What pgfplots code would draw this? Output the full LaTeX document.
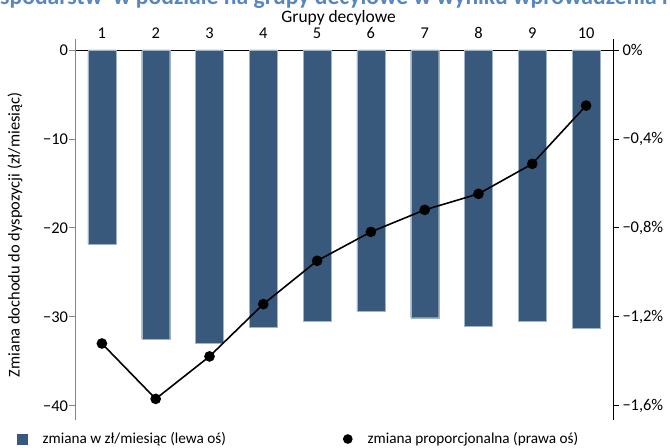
\documentclass[border=0pt]{standalone}
\usepackage{fontspec}
\setmainfont{Carlito}
\usepackage{pgfplots}
\pgfplotsset{compat=1.18}
\definecolor{barblue}{RGB}{57,89,124}
\definecolor{baredge}{RGB}{160,180,200}
\definecolor{titleblue}{RGB}{89,134,189}
\definecolor{axgray}{RGB}{134,134,134}

\begin{document}
\begin{tikzpicture}
\useasboundingbox (-75bp,-28bp) rectangle (595bp,420bp);
\clip (-75bp,-28bp) rectangle (595bp,420bp);
% title, cut off at the top edge as in the source
\node[anchor=base east, inner sep=0pt, text=titleblue, font=\fontsize{23.7}{27}\selectfont\bfseries]
  at (-75bp,415.5bp) {Zmiana dochodu go};
\node[anchor=base west, inner sep=0pt, text=titleblue, font=\fontsize{23.7}{27}\selectfont\bfseries]
  at (-75bp,415.5bp) {spodarstw\ \ w podziale na grupy decylowe w wyniku wprowadzenia reformy};

\pgfplotsset{every axis/.append style={
  scale only axis, width=538bp, height=370bp,
  xmin=0.5, xmax=10.5,
  font=\fontsize{16.5}{19}\selectfont,
  tick align=outside, major tick length=6bp,
}}

% left axis: change in zl/month
\begin{axis}[
  axis x line*=top, axis y line*=left,
  ymin=-41.6, ymax=0,
  xtick={1,...,10},
  xticklabels={1,2,3,4,5,6,7,8,9,10},
  x tick style={draw=none},
  x axis line style={black, line width=0.8pt},
  xticklabel style={anchor=base, yshift=5bp},
  xlabel={Grupy decylowe},
  xlabel style={at={(rel axis cs:0.49,1)}, anchor=base, yshift=27bp,
    font=\fontsize{17.5}{20}\selectfont},
  ytick={-40,-30,-20,-10,0},
  yticklabels={−40,−30,−20,−10,0},
  yticklabel style={xshift=2.5bp},
  y axis line style={axgray, line width=0.8pt, shorten >=-11bp},
  y tick style={axgray, line width=0.8pt},
  ylabel={Zmiana dochodu do dyspozycji (zł/miesiąc)},
  ylabel style={at={(rel axis cs:-0.1115,0.5)}, anchor=center},
  ybar, bar width=28bp,
]
\addplot[fill=barblue, draw=baredge, line width=0.4pt]
  coordinates {(1,-21.8) (2,-32.5) (3,-33.0) (4,-31.2) (5,-30.5)
               (6,-29.4) (7,-30.1) (8,-31.1) (9,-30.5) (10,-31.3)};
\end{axis}

% right axis: proportional change
\begin{axis}[
  axis x line=none, axis y line*=right,
  ymin=-1.664, ymax=0,
  ytick={-1.6,-1.2,-0.8,-0.4,0},
  yticklabels={{−1,6\%},{−1,2\%},{−0,8\%},{−0,4\%},{0\%}},
  y axis line style={black, line width=0.8pt, shorten >=-11bp},
  y tick style={black, line width=0.8pt},
  legend style={at={(rel axis cs:0,0)}, anchor=north west, xshift=-58bp, yshift=-10.5bp,
    draw=none, fill=none, inner sep=0pt, font=\fontsize{15.3}{18}\selectfont,
    /tikz/every odd column/.append style={column sep=13bp},
    /tikz/every even column/.append style={column sep=115bp}},
  legend columns=2, legend cell align=left,
]
\addlegendimage{legend image code/.code={\fill[barblue] (0bp,-5bp) rectangle (10bp,5bp);}}
\addlegendentry{zmiana w zł/miesiąc (lewa oś)}
\addplot[black, line width=1.6pt, mark=*, mark size=4.5bp, mark options={fill=black},
  legend image code/.code={\fill (5bp,0bp) circle (4bp);}]
  coordinates {(1,-1.320) (2,-1.569) (3,-1.378) (4,-1.143) (5,-0.948)
               (6,-0.818) (7,-0.719) (8,-0.647) (9,-0.512) (10,-0.250)};
\addlegendentry{zmiana proporcjonalna (prawa oś)}
\end{axis}
\end{tikzpicture}
\end{document}
